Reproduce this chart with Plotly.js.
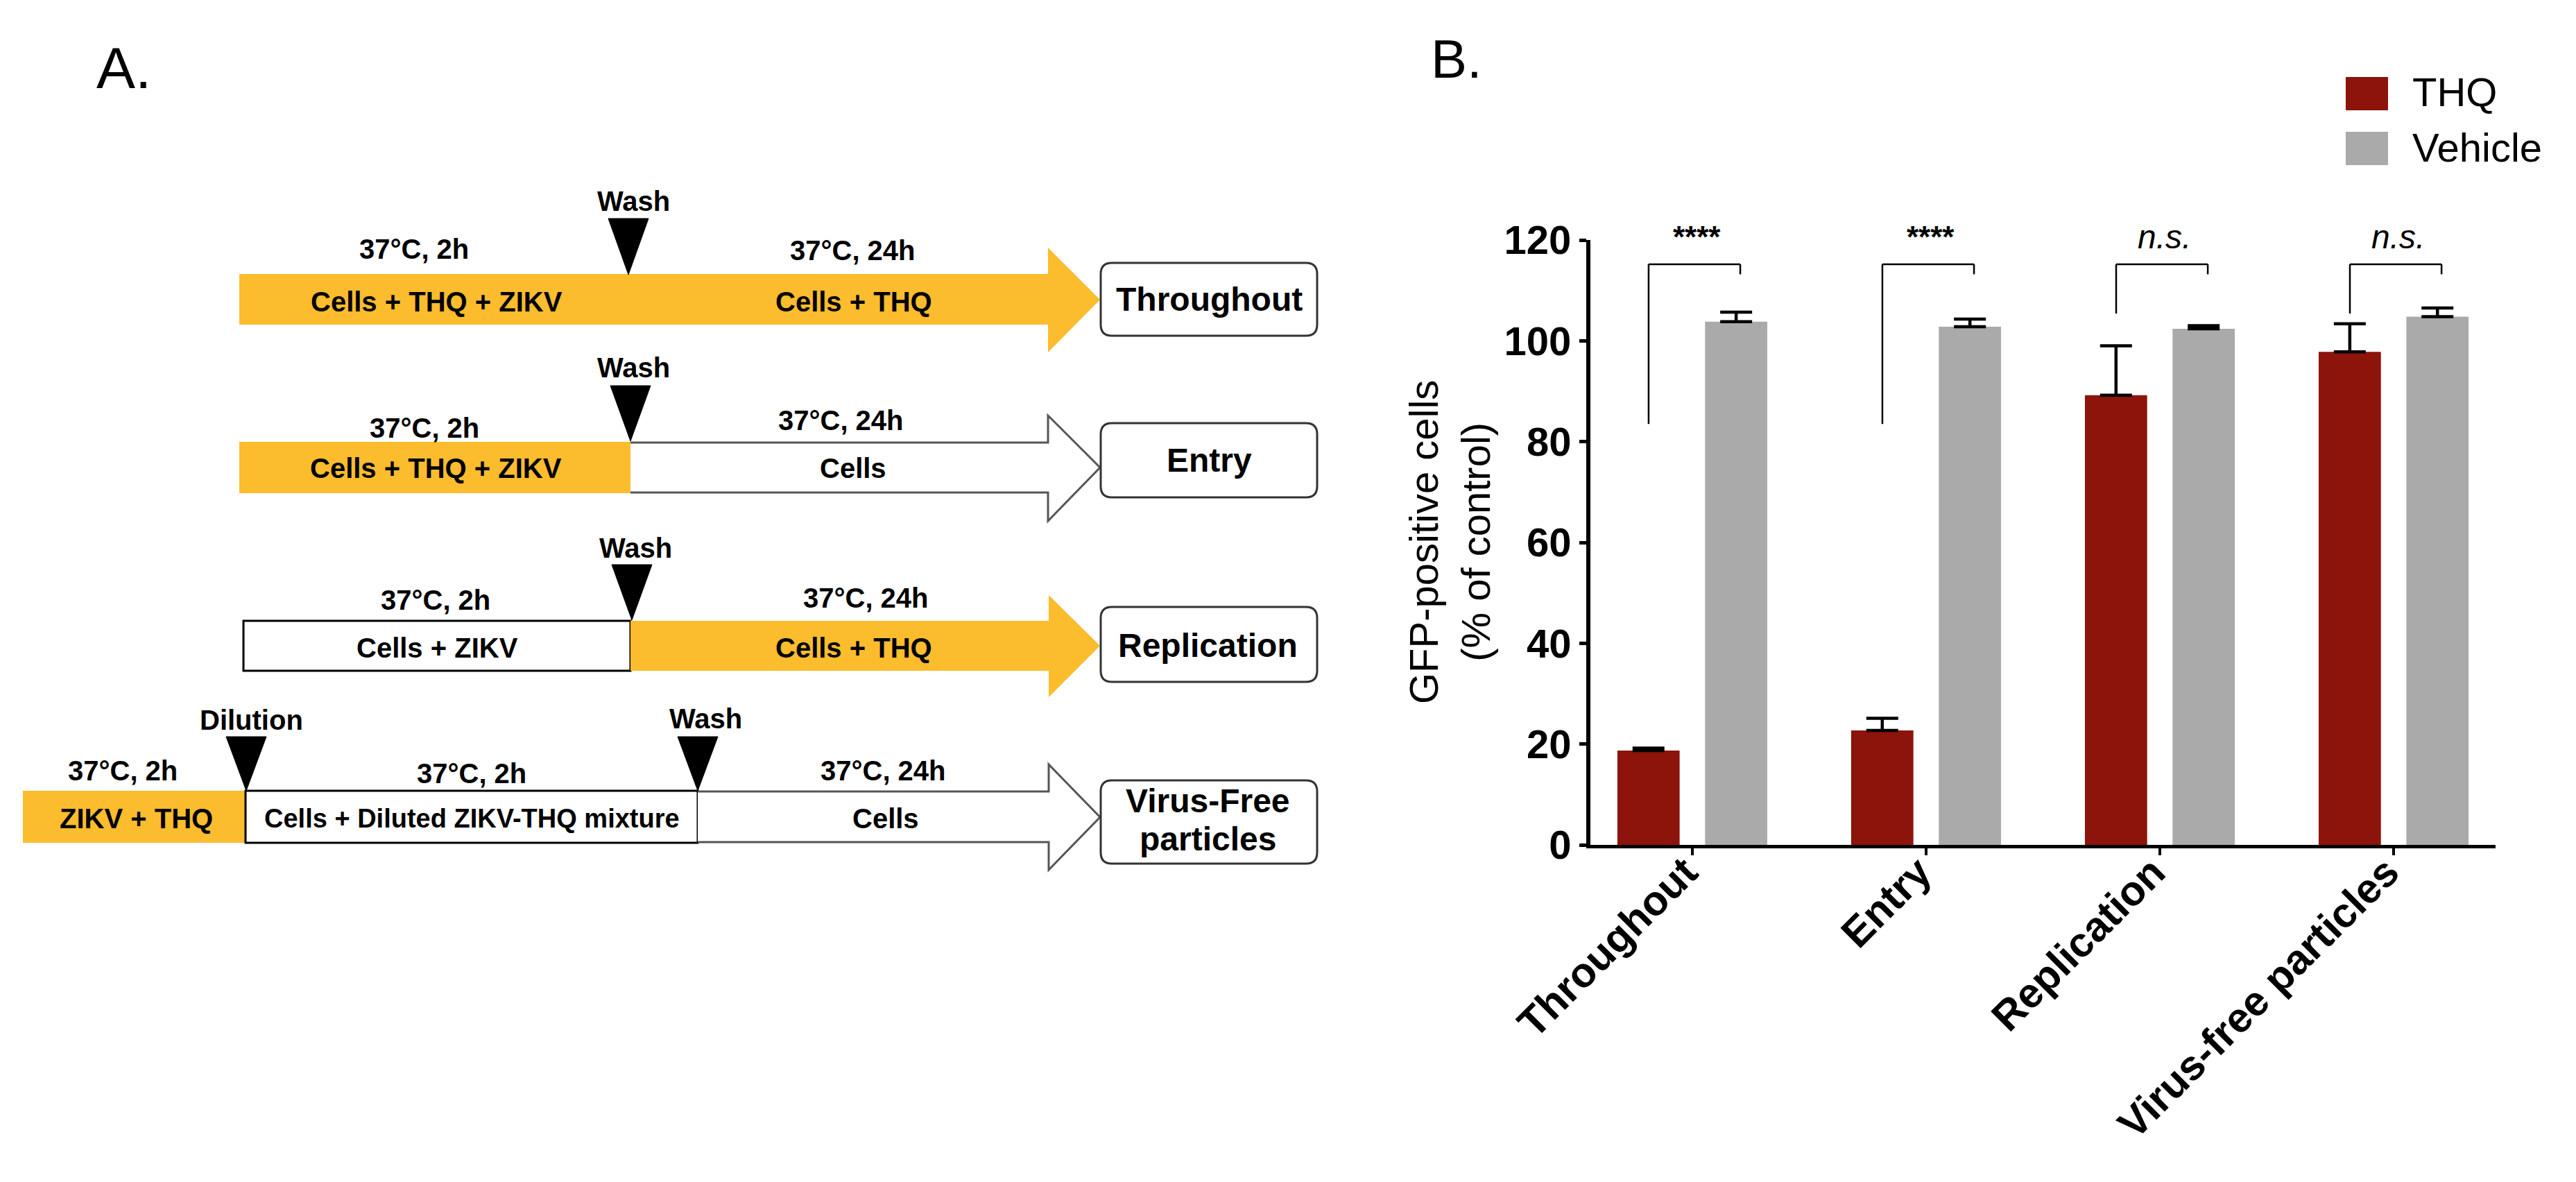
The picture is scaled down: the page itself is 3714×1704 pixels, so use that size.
<!DOCTYPE html>
<html><head><meta charset="utf-8">
<script src="https://cdn.plot.ly/plotly-3.0.1.min.js"></script>
<style>html,body{margin:0;padding:0;background:#fff}#chart{width:3714px;height:1704px}</style>
</head><body><div id="chart"></div>
<script>
// ---------- DATA ----------
const categories = ['Throughout', 'Entry', 'Replication', 'Virus-free particles'];
const seriesNames = ['THQ', 'Vehicle'];
const thqValues = [18.7, 22.7, 89.2, 97.8];
const thqErrors = [0.5, 2.4, 9.8, 5.6];
const vehicleValues = [103.8, 102.8, 102.4, 104.8];
const vehicleErrors = [1.9, 1.5, 0.6, 1.7];
const significance = ['****', '****', 'n.s.', 'n.s.'];
const bracketLeftBottom = [83.5, 83.5, 105.4, 105.4];
const bracketTop = [115.2, 115.2, 115.2, 115.2];
const bracketRightBottom = [113.2, 113.2, 113.2, 113.2];
const significanceLevel = 120.6;
const yTickValues = [0, 20, 40, 60, 80, 100, 120];

// ---------- STYLE ----------
const W = 3714, H = 1704;
const FONT = 'Liberation Sans, Arial, Helvetica, sans-serif';
const THQ_COLOR = '#8C140B';
const VEH_COLOR = '#AAAAAA';
const ORANGE = '#FBBC2D';
const P = x => x / W;
const Q = y => 1 - y / H;

// plot area (pixels)
const PLOT_X0 = 2293, PLOT_X1 = 3598, PLOT_Y0 = 1218, PLOT_Y1 = 346;
const Y_MIN = 0, Y_MAX = 120;
const yDomain = [(H - PLOT_Y0) / H, (H - PLOT_Y1) / H];
const yToPaper = v => yDomain[0] + (v - Y_MIN) / (Y_MAX - Y_MIN) * (yDomain[1] - yDomain[0]);

const shapes = [];
const annotations = [];

function pathOf(points, close) {
  return points.map((p, i) => (i ? 'L' : 'M') + P(p[0]) + ',' + Q(p[1])).join(' ') + (close ? ' Z' : '');
}
function addPath(points, close, fill, lineColor, lineWidth) {
  shapes.push({type: 'path', xref: 'paper', yref: 'paper', path: pathOf(points, close),
    fillcolor: fill || 'rgba(0,0,0,0)', line: {color: lineColor || 'rgba(0,0,0,0)', width: lineWidth || 0}, layer: 'above'});
}
function addRect(x0, y0, x1, y1, fill, lineColor, lineWidth) {
  shapes.push({type: 'rect', xref: 'paper', yref: 'paper', x0: P(x0), x1: P(x1), y0: Q(y1), y1: Q(y0),
    fillcolor: fill, line: {color: lineColor || 'rgba(0,0,0,0)', width: lineWidth || 0}, layer: 'above'});
}
function addRoundRect(x0, y0, x1, y1, r) {
  const c = (x, y) => P(x) + ',' + Q(y);
  const d = 'M' + c(x0 + r, y0) + ' L' + c(x1 - r, y0) + ' Q' + c(x1, y0) + ' ' + c(x1, y0 + r) +
    ' L' + c(x1, y1 - r) + ' Q' + c(x1, y1) + ' ' + c(x1 - r, y1) +
    ' L' + c(x0 + r, y1) + ' Q' + c(x0, y1) + ' ' + c(x0, y1 - r) +
    ' L' + c(x0, y0 + r) + ' Q' + c(x0, y0) + ' ' + c(x0 + r, y0) + ' Z';
  shapes.push({type: 'path', xref: 'paper', yref: 'paper', path: d, fillcolor: '#ffffff',
    line: {color: '#333333', width: 3}, layer: 'above'});
}
function addText(text, x, y, size, opts) {
  opts = opts || {};
  annotations.push({text: text, xref: 'paper', yref: 'paper', x: P(x), y: Q(y),
    xanchor: opts.xanchor || 'center', yanchor: 'middle', showarrow: false,
    textangle: opts.angle || 0,
    font: {family: FONT, size: size, color: '#000', weight: opts.weight || 'bold', style: opts.style || 'normal'}});
}
function triangle(xc, top, tip) {
  addPath([[xc - 29, top], [xc + 29, top], [xc, tip]], true, '#000', '#000', 1);
}

// ---------- PANEL A ----------
addText('A.', 178, 98, 84, {weight: 'normal'});

// Row 1: Throughout
addRect(345, 395, 907, 468, ORANGE);
addPath([[906, 395], [1511, 395], [1511, 357], [1586, 432], [1511, 508], [1511, 468], [906, 468]], true, ORANGE);
triangle(906, 315, 396);
addRoundRect(1587, 379, 1899, 484, 16);
addText('Wash', 913, 290, 40);
addText('37°C, 2h', 597, 359, 40);
addText('37°C, 24h', 1229, 361, 40);
addText('Cells + THQ + ZIKV', 629, 435, 40);
addText('Cells + THQ', 1231, 435, 40);
addText('Throughout', 1743, 431, 48);

// Row 2: Entry
addRect(345, 637, 909, 711, ORANGE);
addPath([[909, 638], [1511, 638], [1511, 599], [1586, 674], [1511, 751], [1511, 710], [909, 710]], false, '#ffffff', '#555555', 3);
triangle(909, 556, 636);
addRoundRect(1587, 610, 1899, 717, 16);
addText('Wash', 913, 530, 40);
addText('37°C, 2h', 612, 617, 40);
addText('37°C, 24h', 1212, 606, 40);
addText('Cells + THQ + ZIKV', 628, 675, 40);
addText('Cells', 1230, 675, 40);
addText('Entry', 1743, 663, 48);

// Row 3: Replication
addRect(351, 895, 909, 967, '#ffffff', '#000000', 3);
addPath([[909, 895], [1512, 895], [1512, 858], [1586, 931], [1512, 1005], [1512, 967], [909, 967]], true, ORANGE);
triangle(911, 814, 894);
addRoundRect(1587, 875, 1899, 983, 16);
addText('Wash', 916, 790, 40);
addText('37°C, 2h', 628, 865, 40);
addText('37°C, 24h', 1248, 862, 40);
addText('Cells + ZIKV', 630, 934, 40);
addText('Cells + THQ', 1231, 934, 40);
addText('Replication', 1741, 930, 48);

// Row 4: Virus-Free particles
addRect(33, 1140, 354, 1215, ORANGE);
addRect(354, 1140, 1006, 1215, '#ffffff', '#000000', 3);
addPath([[1006, 1141], [1512, 1141], [1512, 1102], [1586, 1178], [1512, 1254], [1512, 1214], [1006, 1214]], false, '#ffffff', '#555555', 3);
triangle(355, 1062, 1140);
triangle(1006, 1062, 1140);
addRoundRect(1587, 1125, 1899, 1245, 16);
addText('Dilution', 362, 1038, 40);
addText('Wash', 1017, 1036, 40);
addText('37°C, 2h', 177, 1111, 40);
addText('37°C, 2h', 680, 1115, 40);
addText('37°C, 24h', 1273, 1111, 40);
addText('ZIKV + THQ', 196, 1180, 40);
addText('Cells + Diluted ZIKV-THQ mixture', 680, 1180, 38);
addText('Cells', 1277, 1180, 40);
addText('Virus-Free', 1741, 1154, 48);
addText('particles', 1741, 1209, 48);

// ---------- PANEL B ----------
addText('B.', 2100, 85, 78, {weight: 'normal'});
addText('GFP-positive cells<br>(% of control)', 2090, 782, 58, {weight: 'normal', angle: -90});

// legend (custom swatches)
const legendColors = [THQ_COLOR, VEH_COLOR];
const legendY = [135, 214];
seriesNames.forEach((name, i) => {
  addRect(3382, legendY[i] - 24, 3443, legendY[i] + 24, legendColors[i]);
  addText(name, 3476, legendY[i] - 2, 58, {weight: 'normal', xanchor: 'left'});
});

// significance brackets and labels
const OFF_L = -0.187, OFF_R = 0.205;
categories.forEach((c, i) => {
  const line = {color: '#000', width: 2.5};
  shapes.push({type: 'line', xref: 'x', yref: 'y', x0: i + OFF_L, x1: i + OFF_L, y0: bracketLeftBottom[i], y1: bracketTop[i], line: line});
  shapes.push({type: 'line', xref: 'x', yref: 'y', x0: i + OFF_L, x1: i + OFF_R, y0: bracketTop[i], y1: bracketTop[i], line: line});
  shapes.push({type: 'line', xref: 'x', yref: 'y', x0: i + OFF_R, x1: i + OFF_R, y0: bracketTop[i], y1: bracketRightBottom[i], line: line});
  const isStars = significance[i].indexOf('*') >= 0;
  annotations.push({text: significance[i], xref: 'x', yref: 'paper', x: i + 0.02, y: yToPaper(significanceLevel),
    xanchor: 'center', yanchor: 'middle', showarrow: false,
    font: {family: FONT, size: isStars ? 44 : 48, color: '#000', weight: isStars ? 'bold' : 'normal', style: isStars ? 'normal' : 'italic'}});
});

const traces = [
  {type: 'bar', name: seriesNames[0], x: categories, y: thqValues, marker: {color: THQ_COLOR},
   error_y: {type: 'data', symmetric: false, array: thqErrors, arrayminus: thqErrors.map(() => 0),
     color: '#000', thickness: 4.5, width: 23, visible: true}, cliponaxis: false},
  {type: 'bar', name: seriesNames[1], x: categories, y: vehicleValues, marker: {color: VEH_COLOR},
   error_y: {type: 'data', symmetric: false, array: vehicleErrors, arrayminus: vehicleErrors.map(() => 0),
     color: '#000', thickness: 4.5, width: 23, visible: true}, cliponaxis: false}
];

const layout = {
  width: W, height: H,
  margin: {l: 0, r: 0, t: 0, b: 0, pad: 0},
  paper_bgcolor: '#ffffff', plot_bgcolor: 'rgba(0,0,0,0)',
  showlegend: false,
  barmode: 'group', bargap: 0.25, bargroupgap: 0.29,
  font: {family: FONT, color: '#000'},
  xaxis: {
    domain: [PLOT_X0 / W, PLOT_X1 / W], type: 'category', range: [-0.436, 3.436],
    showline: true, linewidth: 5, linecolor: '#000', mirror: false,
    ticks: 'outside', ticklen: 10, tickwidth: 4, tickcolor: '#000',
    tickangle: -45, ticklabelstandoff: -35, ticklabelshift: -10,
    tickfont: {family: FONT, size: 60, weight: 'bold', color: '#000'},
    showgrid: false, zeroline: false, fixedrange: true
  },
  yaxis: {
    domain: yDomain, range: [Y_MIN, Y_MAX],
    tickmode: 'array', tickvals: yTickValues, ticktext: yTickValues.map(String),
    showline: true, linewidth: 6, linecolor: '#000',
    ticks: 'outside', ticklen: 10, tickwidth: 5, tickcolor: '#000',
    tickfont: {family: FONT, size: 58, weight: 'bold', color: '#000'},
    showgrid: false, zeroline: false, fixedrange: true
  },
  shapes: shapes,
  annotations: annotations
};

Plotly.newPlot('chart', traces, layout, {staticPlot: true, displayModeBar: false});
</script>
</body></html>
